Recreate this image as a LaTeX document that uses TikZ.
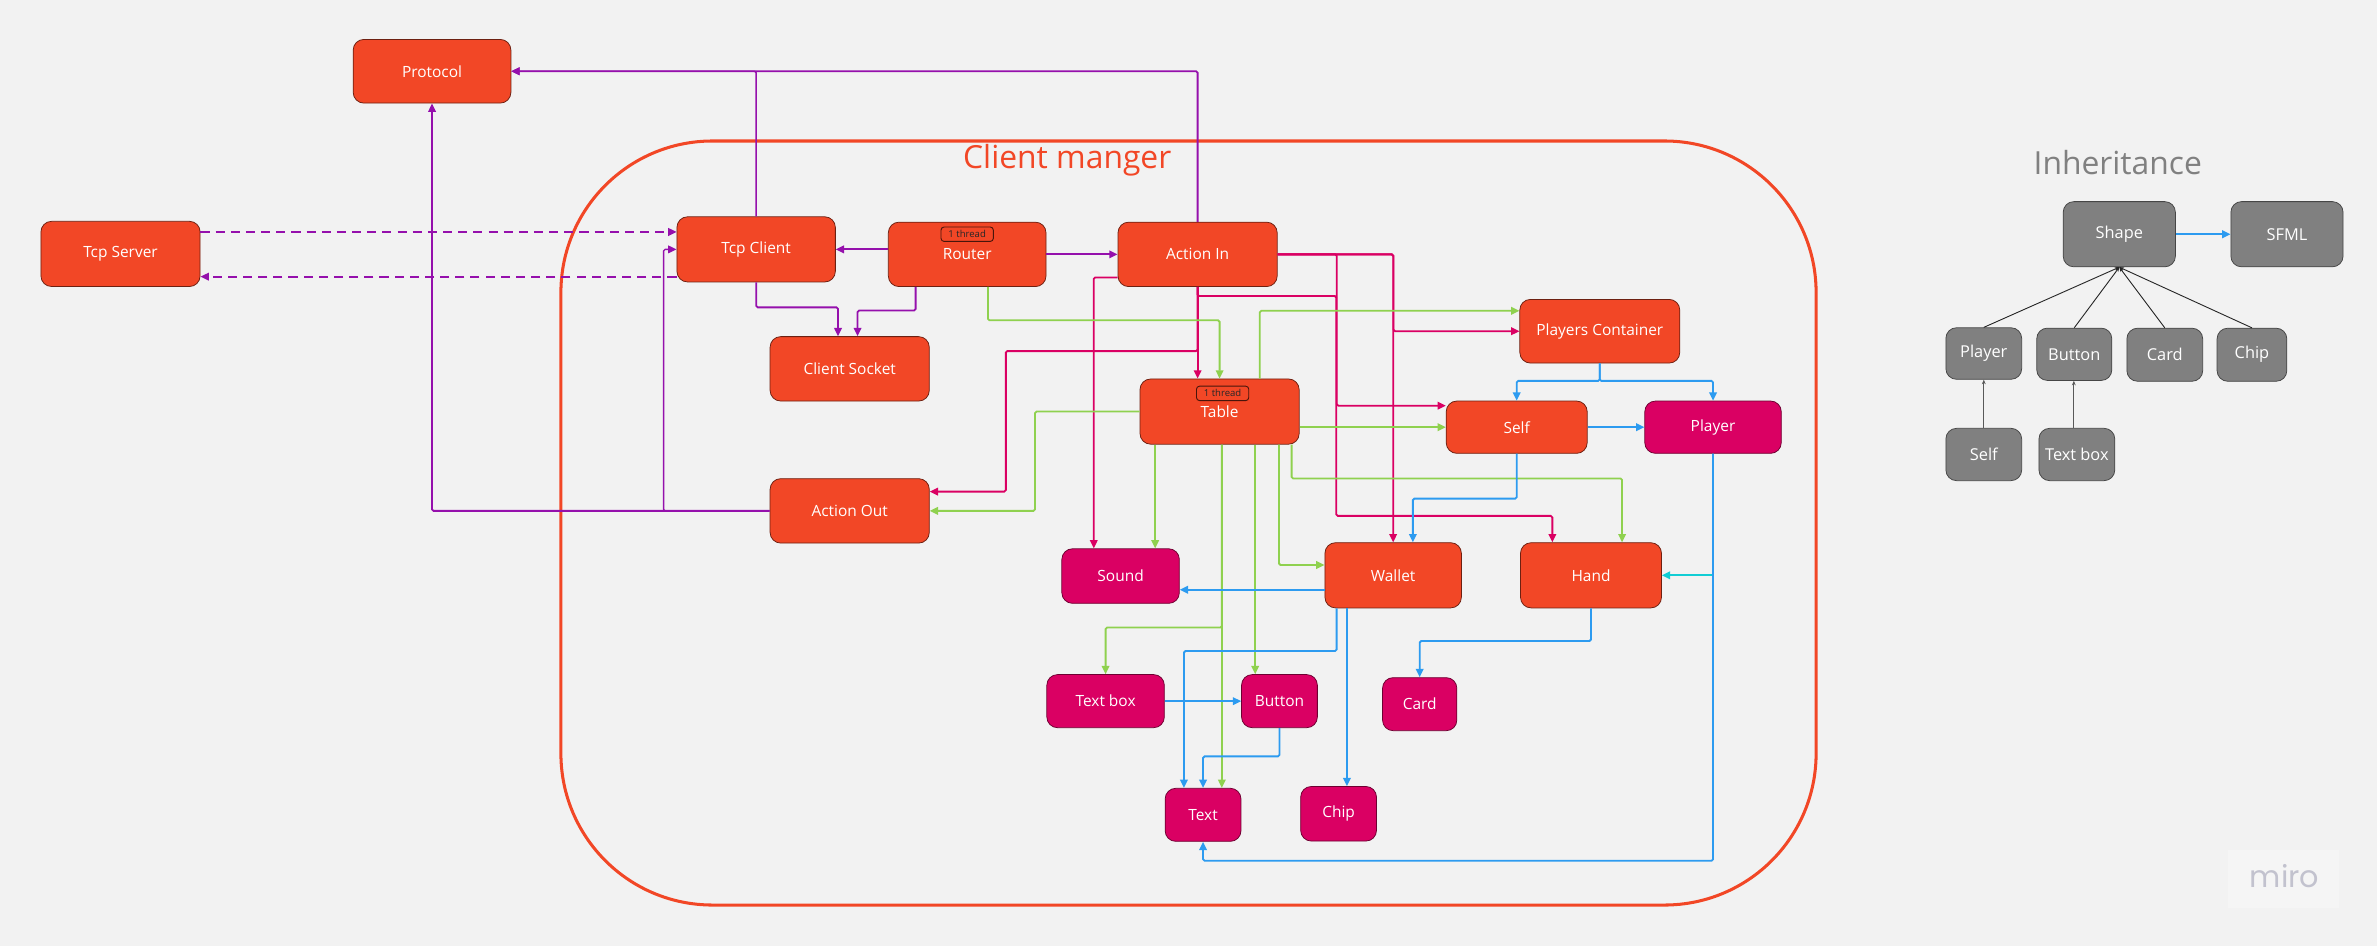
\documentclass[tikz,border=0pt]{standalone}
\usepackage{fontspec}
\setmainfont{Open Sans}
\newfontfamily\logofont{Poppins}
\usetikzlibrary{arrows.meta}
\definecolor{bg}{HTML}{F2F2F2}
\definecolor{orng}{HTML}{F24726}
\definecolor{mag}{HTML}{DA0063}
\definecolor{purp}{HTML}{9510AC}
\definecolor{grn}{HTML}{8FD14F}
\definecolor{blu}{HTML}{2D9BF0}
\definecolor{cyn}{HTML}{12CDD4}
\definecolor{gry}{HTML}{808080}
\definecolor{logogray}{HTML}{C2C2CE}
\begin{document}
\begin{tikzpicture}[x=1pt,y=-1pt,
  box/.style={line width=0.5pt, rounded corners=7pt, text=white,
    font=\fontsize{10.2}{12}\selectfont, inner sep=0pt},
  obox/.style 2 args={box, draw=black!55!orng, fill=orng, minimum width=#1pt, minimum height=#2pt},
  mbox/.style 2 args={box, draw=black!50!mag, fill=mag, minimum width=#1pt, minimum height=#2pt},
  gbox/.style 2 args={box, draw=black!45!gry, fill=gry, minimum width=#1pt, minimum height=#2pt,
    font=\fontsize{10.8}{12}\selectfont},
  badge/.style={draw=black!70!orng, fill=orng, line width=0.6pt, rounded corners=2pt,
    minimum width=34.5pt, minimum height=9.5pt, inner sep=0pt, text=black!85,
    font=\fontsize{6.3}{7}\selectfont},
  conn/.style={line width=1.2pt, rounded corners=1pt, -{Triangle[length=5.5pt,width=5pt]}},
  pu/.style={conn, draw=purp, color=purp},
  pk/.style={conn, draw=mag, color=mag},
  gr/.style={conn, draw=grn, color=grn},
  bl/.style={conn, draw=blu, color=blu},
  cy/.style={conn, draw=cyn, color=cyn},
  inh/.style={draw=black!85, line width=0.6pt, -{Stealth[length=3pt,width=2.5pt]}},
  inhb/.style={draw=black!65, line width=0.8pt, -{Stealth[length=3pt,width=2.5pt]}}
]
\useasboundingbox (0,0) rectangle (1568,624);
\fill[bg] (0,0) rectangle (1568,624);

% client manager frame
\node[draw=orng, line width=2pt, rounded corners=100pt, minimum width=828pt,
  minimum height=504pt, inner sep=0pt] (mgr) at (784,345) {};
\node[anchor=base, text=orng, font=\fontsize{21}{25}\selectfont] (mgrtitle) at (704,111) {Client manger};

% components
\node[obox={104}{42}] (proto) at (285,47) {Protocol};
\node[obox={105}{43}] (tcpsrv) at (79.5,167.5) {Tcp Server};
\node[obox={104.5}{43}] (tcpcli) at (498.8,164.5) {Tcp Client};
\node[obox={104}{42.5}] (router) at (638,167.8) {Router};
\node[obox={105}{42.5}] (actin) at (790,167.8) {Action In};
\node[obox={105}{42.5}] (csock) at (560.5,243.3) {Client Socket};
\node[obox={105}{42.5}] (actout) at (560.5,337) {Action Out};
\node[obox={105}{43}] (table) at (804.5,271.5) {Table};
\node[obox={105.5}{42}] (pcont) at (1055.3,218.5) {Players Container};
\node[obox={93}{34.5}] (self) at (1000.5,281.8) {Self};
\node[mbox={90}{34.5}] (player) at (1130,281.8) {Player};
\node[mbox={77.5}{36}] (sound) at (739.2,380) {Sound};
\node[obox={90}{43}] (wallet) at (919,379.5) {Wallet};
\node[obox={93}{43}] (hand) at (1049.5,379.5) {Hand};
\node[mbox={77.5}{35}] (textbox) at (729.3,462.5) {Text box};
\node[mbox={50}{35}] (button) at (844,462.5) {Button};
\node[mbox={49}{35}] (card) at (936.5,464.5) {Card};
\node[mbox={50}{35}] (text) at (793.6,537.5) {Text};
\node[mbox={50}{36}] (chip) at (883,536.8) {Chip};

\node[badge] (routerthread) at (638,154.5) {1 thread};
\node[badge] (tablethread) at (806.5,259.5) {1 thread};

% network links (purple)
\coordinate (srvA) at ([yshift=14.5pt]tcpsrv.east);
\draw[pu, dash pattern=on 6pt off 4pt] (srvA) -- (srvA -| tcpcli.west);
\coordinate (cliB) at ([yshift=-18pt]tcpcli.west);
\draw[pu, dash pattern=on 6pt off 4pt] (cliB) -- (cliB -| tcpsrv.east);
\draw[pu] (actin.north) |- (proto.east);
\draw[pu, line width=0.9pt] (tcpcli.north) |- (proto.east);
\draw[pu] (actout.west) -| (proto.south);
\draw[pu, line width=0.9pt] (actout.west) -- ++(-70,0) |- (tcpcli.west);
\draw[pu] (router.west |- tcpcli.east) -- (tcpcli.east);
\draw[pu] (router.east) -- (actin.west);
\draw[pu] (tcpcli.south) -- ++(0,16.5) -| ([xshift=-7.7pt]csock.north);
\draw[pu] ([xshift=-34pt]router.south) -- ++(0,15.5) -| ([xshift=5.2pt]csock.north);

% incoming actions (magenta)
\draw[pk] (actin.south) -- (actin.south |- table.north);
\draw[pk] (actin.south) -- ++(0,42.3) -- ++(-126.5,0) |- ([yshift=12.7pt]actout.east);
\draw[pk] (actin.east) -- ++(39,0) |- ([yshift=14.2pt]self.west);
\draw[pk] (actin.south) -- ++(0,6) -- ++(91.5,0) -- ++(0,145) -| ([xshift=-25.5pt]hand.north);
\draw[pk] (actin.east) -| (wallet.north);
\draw[pk] (actin.east) -- ++(76.5,0) |- (pcont.west);
\draw[pk] ([yshift=-15.2pt]actin.west) -| ([xshift=-17.7pt]sound.north);

% table updates (green)
\draw[gr] ([xshift=13.7pt]router.south) -- ++(0,22) -| (table.north);
\draw[gr] (table.west) -- ++(-69,0) |- (actout.east);
\draw[gr] ([xshift=26.5pt]table.north) |- ([yshift=13.5pt]pcont.west);
\draw[gr] ([yshift=-10.3pt]table.east) -- (self.west);
\draw[gr] ([xshift=47.5pt]table.south) -- ++(0,22.4) -| ([xshift=20.5pt]hand.north);
\draw[gr] ([xshift=39.2pt]table.south) |- ([yshift=6.8pt]wallet.west);
\coordinate (tsA) at ([xshift=-42.5pt]table.south);
\draw[gr] (tsA) -- (tsA |- sound.north);
\coordinate (tsB) at ([xshift=23.5pt]table.south);
\draw[gr] (tsB) -- (tsB |- button.north);
\coordinate (tsC) at ([xshift=1.5pt]table.south);
\draw[gr] (tsC) -- (tsC |- text.north);
\draw[gr] (tsC) -- ++(0,120.7) -| (textbox.north);

% object ownership (blue)
\draw[cy] (player.south |- hand.east) -- (hand.east);
\draw[bl] (pcont.south) -- ++(0,11.5) -| (self.north);
\draw[bl] (pcont.south) -- ++(0,11.5) -| (player.north);
\draw[bl] (self.east) -- (player.west);
\draw[bl] (self.south) -- ++(0,29.6) -| ([xshift=13pt]wallet.north);
\draw[bl] (player.south) -- ++(0,268.5) -| (text.south);
\coordinate (wlA) at ([yshift=-9.5pt]wallet.west);
\draw[bl] (wlA) -- (wlA -| sound.east);
\draw[bl] ([xshift=-37.3pt]wallet.south) -- ++(0,28.2) -| ([xshift=-12.6pt]text.north);
\coordinate (wlB) at ([xshift=-30.5pt]wallet.south);
\draw[bl] (wlB) -- (wlB |- chip.north);
\draw[bl] (hand.south) -- ++(0,21.6) -| (card.north);
\draw[bl] (textbox.east) -- (button.west);
\draw[bl] (button.south) -- ++(0,18.7) -| (text.north);

% inheritance
\node[anchor=base, text=gry, font=\fontsize{21}{25}\selectfont] (inhtitle) at (1397,115.4) {Inheritance};
\node[gbox={74}{43}] (shape) at (1398,154.5) {Shape};
\node[gbox={74}{43}] (sfml) at (1508.6,154.5) {SFML};
\node[gbox={50}{34}] (gplayer) at (1308.6,233.2) {Player};
\node[gbox={49.5}{34.5}] (gbutton) at (1368.3,233.7) {Button};
\node[gbox={50}{35}] (gcard) at (1428,234) {Card};
\node[gbox={46}{35}] (gchip) at (1485.5,234) {Chip};
\node[gbox={50}{34.5}] (gself) at (1308.6,299.8) {Self};
\node[gbox={50}{34.5}] (gtextbox) at (1370,299.8) {Text box};
\draw[bl] (shape.east) -- (sfml.west);
\draw[inh] (gplayer.north) -- (shape.south);
\draw[inh] (gbutton.north) -- (shape.south);
\draw[inh] (gcard.north) -- (shape.south);
\draw[inh] (gchip.north) -- (shape.south);
\draw[inhb] (gself.north) -- (gplayer.south);
\coordinate (gtbtop) at ([xshift=-2pt]gtextbox.north);
\draw[inhb] (gtbtop) -- (gtbtop |- gbutton.south);

% board logo
\node[fill=white!20!bg, minimum width=73pt, minimum height=38pt, inner sep=0pt] (logobox) at (1506.5,580) {};
\node[text=logogray, font=\logofont\fontsize{20}{22}\selectfont] (logo) at (1507,578) {miro};
\end{tikzpicture}
\end{document}
